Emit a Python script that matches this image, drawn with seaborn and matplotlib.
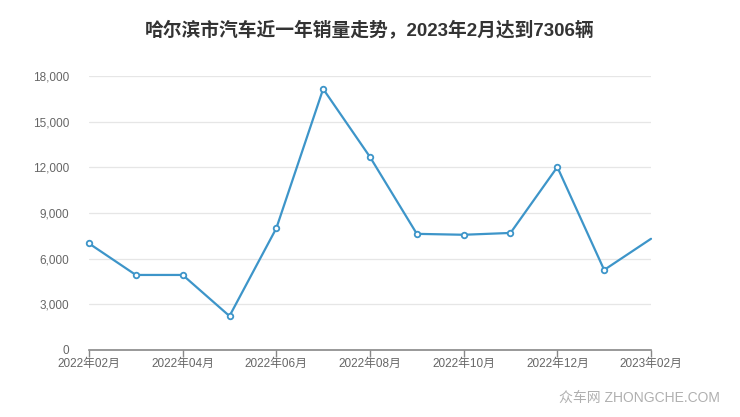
import matplotlib
matplotlib.use("Agg")
import matplotlib.pyplot as plt
import seaborn as sns
import pandas as pd

months = ["2022年02月", "2022年03月", "2022年04月", "2022年05月", "2022年06月", "2022年07月",
          "2022年08月", "2022年09月", "2022年10月", "2022年11月", "2022年12月", "2023年01月", "2023年02月"]
sales = [7000, 4930, 4930, 2230, 8000, 17150, 12680, 7630, 7570, 7690, 12020, 5260, 7306]
yticks = [0, 3000, 6000, 9000, 12000, 15000, 18000]
title = "哈尔滨市汽车近一年销量走势，2023年2月达到7306辆"
watermark = "众车网 ZHONGCHE.COM"

sns.set_theme(style="white")
fam = ['Liberation Sans', 'Noto Sans CJK SC', 'DejaVu Sans']
plt.rcParams['font.family'] = fam

df = pd.DataFrame({"idx": range(len(months)), "month": months, "sales": sales})

fig = plt.figure(figsize=(7.4, 4.17), dpi=100)
ax = fig.add_axes([89/740, 1-350/417, (651-89)/740, (350-76)/417])

line_color = "#3d95c9"
sns.lineplot(data=df, x="idx", y="sales", ax=ax, color=line_color, linewidth=1.6,
             marker="o", markersize=4, markerfacecolor="white", markeredgecolor=line_color,
             markeredgewidth=1.3, markevery=list(range(len(months) - 1)),
             clip_on=False, zorder=3)

ax.set_xlim(0, len(months) - 1)
ax.set_ylim(0, 18000)
ax.set_yticks(yticks)
ax.set_yticklabels([f"{v:,}" for v in yticks], fontsize=8.5, color="#666666")
tick_idx = list(range(0, len(months), 2))
ax.set_xticks(tick_idx)
ax.set_xticklabels([months[i] for i in tick_idx], fontsize=8.5, color="#666666")
ax.set_xlabel("")
ax.set_ylabel("")
ax.grid(axis="y", color="#e6e6e6", linewidth=0.9)
ax.grid(axis="x", visible=False)
for s in ["left", "right", "top"]:
    ax.spines[s].set_visible(False)
ax.spines["bottom"].set_color("#888888")
ax.spines["bottom"].set_linewidth(1.2)
ax.tick_params(axis="x", bottom=True, length=5, width=1, color="#888888", pad=1)
ax.tick_params(axis="y", left=False, pad=8)

fig.text(0.5, 1-30/417, title, ha="center", va="center", fontsize=13.5, fontweight="bold", color="#333333")
fig.text(720/740, 1-398/417, watermark, ha="right", va="center", fontsize=10, color="#b0b0b0")

fig.savefig("out.png", dpi=100)
